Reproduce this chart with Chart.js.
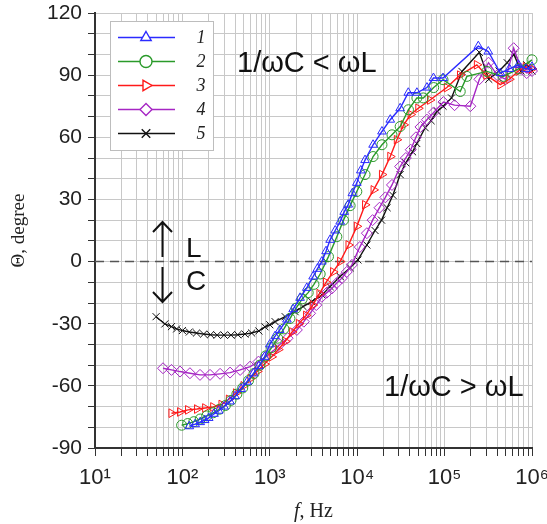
<!DOCTYPE html>
<html>
<head>
<meta charset="utf-8">
<script src="https://cdn.jsdelivr.net/npm/chart.js@4.4.1/dist/chart.umd.min.js"></script>
<style>
  html, body { margin: 0; padding: 0; background: #fff; }
  #wrap { width: 547px; height: 524px; }
</style>
</head>
<body>
<div id="wrap"><canvas id="chart" width="547" height="524"></canvas></div>
<script>
// curve labels
const seriesNames = ['1', '2', '3', '4', '5'];

// 1 (blue)
const freq1 = [120,140,160,180,200,230,260,300,350,400,470,550,650,750,870,1000,1150,1300,1570,1850,2220,2650,3130,3500,3940,4400,4900,5600,6380,7100,7890,8800,9900,11000,12300,15200,19200,23900,31000,38400,48200,62800,74600,96000,243000,316000,434000,550000,700000,850000,1000000];
const theta1 = [-79.5,-78.5,-77.5,-76.5,-75.5,-73.5,-72,-70,-67.5,-65,-61.5,-58,-54,-50.5,-46,-40,-36,-33,-28,-23,-17.5,-12.7,-7.2,-3.5,0,5,10.5,15,19.3,24,27.5,33,38,44,49,56.4,62.8,68.5,74,81.5,81.5,84,88.6,88.6,104,101.4,91,93,95,93,94];

// 2 (green)
const freq2 = [98,115,135,160,190,225,265,310,360,420,490,570,660,770,900,1050,1230,1450,1700,2000,2350,2750,3200,3770,4690,5850,6970,8300,9900,12300,15200,19200,25000,31000,38600,48200,57000,75000,96000,151000,180000,305000,468000,700000,1000000];
const theta2 = [-79,-78.2,-77.3,-76,-74.5,-73,-71.3,-69.5,-67,-64,-61,-57.5,-54,-50,-45.5,-41.5,-37,-32.5,-27.5,-22.5,-18,-15,-11,-6,2.4,12,20,27,33.8,42,50.7,56.4,61.2,65.2,73.3,79,79,84,87.8,82.1,89.4,91.8,89.4,93,97.4];

// 3 (red)
const freq3 = [75,94,116,147,182,225,280,340,410,500,600,720,870,1050,1250,1500,1800,2150,2600,3100,3700,4400,5300,6380,7950,9900,12300,15400,19200,23900,28400,34000,40900,50000,68000,106000,150000,234000,300000,434000,550000,700000,850000,1000000];
const theta3 = [-73.2,-72.6,-71.6,-71.2,-70.7,-70.2,-69,-66.5,-63.5,-60,-56.5,-53,-49.5,-46,-42.5,-38.5,-34,-30,-26,-21,-15.5,-10,-5,0,8,17,27.4,34.6,42,50.7,58.8,66,71,74,78,84,90,95,90,85.4,88,92,94,93];

// 4 (purple)
const freq4 = [60,75,94,122,159,207,270,351,458,596,742,900,1100,1300,1600,2040,2450,2890,3400,3940,4500,5120,5800,6680,7600,8700,10700,12900,15000,18000,21000,25000,31000,36000,41000,47000,53000,62800,75000,97000,130000,197000,250000,318000,400000,500000,617000,750000,870000,1000000];
const theta4 = [-51.5,-52.3,-53.1,-53.9,-54.7,-54.7,-54.2,-53.6,-52.3,-50.7,-48.3,-46,-43,-40,-37,-33,-29,-25,-21,-17,-15,-13,-10.5,-8,-5,-1.6,7,13.7,20,26,31,37,45.9,50,54,60,65,68.5,72,77,75.5,75,88,96,90,88,103,93,91,92];

// 5 (black)
const freq5 = [50,63,75,86,100,120,145,175,210,250,300,360,430,520,620,750,880,1000,1150,1500,1950,2400,3020,3960,4900,6380,8320,10200,12900,16000,19000,22000,25600,31000,36000,43000,48000,60000,70000,82000,96000,120000,158000,250000,320000,420000,520000,620000,750000,870000,1000000];
const theta5 = [-26.6,-30.1,-31.4,-32.5,-33.3,-34,-34.5,-35,-35.3,-35.5,-35.5,-35.5,-35.3,-35,-34.5,-33.5,-31.5,-30.5,-29,-26.6,-24.2,-21.7,-19.3,-16.1,-12.1,-7.2,-3,0.8,8,15,20,26,32,42,47.7,53,57,64.6,68,72.5,75,79,91.8,101,88,92,96,100,92,95,92];

// axes
const xDecades = [10, 100, 1000, 10000, 100000, 1000000];
const xTickLabels = ['10\u00B9', '10\u00B2', '10\u00B3', '10\u2074', '10\u2075', '10\u2076'];
const yMin = -90, yMax = 120, yStep = 10, yLabelStep = 30;

const colors = ['#2b2bff', '#2a9a2a', '#ff1a1a', '#a626c4', '#111111'];
const styles = [
  { pointStyle: 'triangle', rotation: 0 },
  { pointStyle: 'circle', rotation: 0 },
  { pointStyle: 'triangle', rotation: 90 },
  { pointStyle: 'rectRot', rotation: 0 },
  { pointStyle: 'crossRot', rotation: 0 }
];

const freqs = [freq1, freq2, freq3, freq4, freq5];
const thetas = [theta1, theta2, theta3, theta4, theta5];

const datasets = seriesNames.map((name, k) => ({
  label: name,
  data: freqs[k].map((f, i) => ({ x: f, y: thetas[k][i] })),
  borderColor: colors[k],
  borderWidth: 1.4,
  pointStyle: styles[k].pointStyle,
  rotation: styles[k].rotation,
  pointRadius: k === 3 ? 5.5 : 5,
  pointBorderColor: colors[k],
  pointBackgroundColor: 'rgba(0,0,0,0)',
  pointBorderWidth: 1,
  tension: 0,
  clip: false
}));

// dashed zero line, last so it sits under the curves
datasets.push({
  label: 'zero',
  data: [{ x: 10, y: 0 }, { x: 1000000, y: 0 }],
  borderColor: '#555',
  borderWidth: 1.6,
  borderDash: [9, 6],
  pointRadius: 0
});

// keep the plot box fixed whatever the label widths are
function noPad(s) {
  s.paddingLeft = 0;
  s.paddingRight = 0;
  s.paddingTop = 0;
  s.paddingBottom = 0;
}

const decorPlugin = {
  id: 'decor',
  afterDraw(chart) {
    const ctx = chart.ctx;
    ctx.save();

    // legend box
    ctx.fillStyle = '#fff';
    ctx.strokeStyle = '#bdbdbd';
    ctx.lineWidth = 1;
    ctx.fillRect(110.5, 21.5, 103, 129);
    ctx.strokeRect(110.5, 21.5, 103, 129);
    seriesNames.forEach((name, k) => {
      const y = 37.5 + k * 24;
      ctx.strokeStyle = colors[k];
      ctx.lineWidth = 1.4;
      ctx.beginPath();
      ctx.moveTo(118, y);
      ctx.lineTo(175, y);
      ctx.stroke();
      ctx.fillStyle = '#fff';
      Chart.helpers.drawPoint(ctx, {
        pointStyle: styles[k].pointStyle,
        rotation: styles[k].rotation,
        radius: 6,
        borderWidth: 1
      }, 146, y);
      ctx.fillStyle = '#222';
      ctx.font = 'italic 18px "Liberation Serif"';
      ctx.textAlign = 'center';
      ctx.textBaseline = 'middle';
      ctx.fillText(name, 201, y + 1);
    });

    // region labels
    ctx.fillStyle = '#111';
    ctx.textAlign = 'left';
    ctx.textBaseline = 'alphabetic';
    ctx.font = '29px "Liberation Sans"';
    ctx.fillText('1/\u03C9C < \u03C9L', 237, 71.5);
    ctx.fillText('1/\u03C9C > \u03C9L', 384, 396);

    // L / C arrows
    ctx.strokeStyle = '#111';
    ctx.lineWidth = 2;
    ctx.beginPath();
    ctx.moveTo(162.5, 257); ctx.lineTo(162.5, 222);
    ctx.moveTo(153, 232); ctx.lineTo(162.5, 222); ctx.lineTo(172, 232);
    ctx.moveTo(162.5, 267); ctx.lineTo(162.5, 302);
    ctx.moveTo(153, 292); ctx.lineTo(162.5, 302); ctx.lineTo(172, 292);
    ctx.stroke();
    ctx.font = '28px "Liberation Sans"';
    ctx.fillText('L', 186, 257);
    ctx.fillText('C', 186, 290);

    // x title with italic f
    ctx.fillStyle = '#222';
    ctx.font = 'italic 20px "Liberation Serif"';
    const fW = ctx.measureText('f').width;
    ctx.font = '20px "Liberation Serif"';
    const restW = ctx.measureText(', Hz').width;
    const cx = (chart.chartArea.left + chart.chartArea.right) / 2;
    const x0 = cx - (fW + restW) / 2;
    ctx.font = 'italic 20px "Liberation Serif"';
    ctx.fillText('f', x0, 517);
    ctx.font = '20px "Liberation Serif"';
    ctx.fillText(', Hz', x0 + fW, 517);

    ctx.restore();
  }
};

const ctx = document.getElementById('chart').getContext('2d');
new Chart(ctx, {
  type: 'line',
  data: { datasets },
  options: {
    responsive: false,
    animation: false,
    layout: { padding: { top: 13, right: 15, left: 0, bottom: 0 } },
    plugins: { legend: { display: false }, tooltip: { enabled: false } },
    scales: {
      x: {
        type: 'logarithmic',
        min: 10,
        max: 1000000,
        afterBuildTicks(axis) {
          const t = [];
          xDecades.forEach(d => {
            if (d === 1000000) { t.push({ value: d }); return; }
            for (let m = 1; m <= 9; m++) t.push({ value: d * m });
          });
          axis.ticks = t;
        },
        afterFit(s) { s.height = 76; noPad(s); },
        ticks: {
          autoSkip: false,
          maxRotation: 0,
          padding: 9,
          color: '#222',
          font: { family: '"Liberation Sans"', size: 22 },
          callback(v) {
            const i = xDecades.indexOf(v);
            return i >= 0 ? xTickLabels[i] : '';
          }
        },
        grid: { color: '#c8c8c8', lineWidth: 1, tickLength: 8, tickColor: '#333' },
        border: { display: true, color: '#333', width: 2 }
      },
      y: {
        min: yMin,
        max: yMax,
        afterFit(s) { s.width = 95; noPad(s); },
        ticks: {
          stepSize: yStep,
          autoSkip: false,
          padding: 6,
          color: '#222',
          font: { family: '"Liberation Sans"', size: 21 },
          callback(v) { return v % yLabelStep === 0 ? String(v) : ''; }
        },
        grid: { color: '#c8c8c8', lineWidth: 1, tickLength: 7, tickColor: '#333' },
        border: { display: true, color: '#333', width: 2 },
        title: {
          display: true,
          text: '\u0398, degree',
          color: '#222',
          font: { family: '"Liberation Serif"', size: 19 },
          padding: { top: 8, bottom: 0 }
        }
      }
    }
  },
  plugins: [decorPlugin]
});
</script>
</body>
</html>
